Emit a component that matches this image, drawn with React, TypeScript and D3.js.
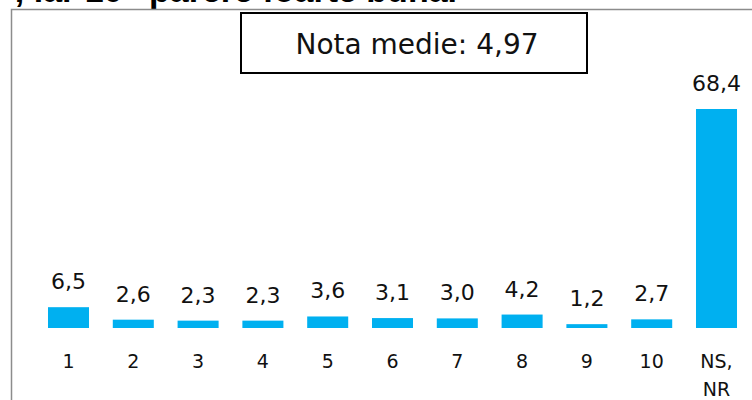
import React from "react";
import * as d3 from "d3";

const categories = ["1", "2", "3", "4", "5", "6", "7", "8", "9", "10", "NS, NR"];
const values = [6.5, 2.6, 2.3, 2.3, 3.6, 3.1, 3.0, 4.2, 1.2, 2.7, 68.4];
const valueLabels = ["6,5", "2,6", "2,3", "2,3", "3,6", "3,1", "3,0", "4,2", "1,2", "2,7", "68,4"];
const titleText = "Nota 1 înseamnă “părere foarte proastă”, iar 10 “părere foarte bună.”";
const boxText = "Nota medie: 4,97";

const W = 752;
const H = 400;
const FONT = "'DejaVu Sans', sans-serif";

export default function App() {
  const x = d3
    .scaleBand<string>()
    .domain(categories)
    .range([36.1, 748.9])
    .paddingInner(0.367)
    .paddingOuter(0.1835);
  const y = d3.scaleLinear().domain([0, 68.4]).range([328, 109]);

  return (
    <svg
      width={W}
      height={H}
      style={{ position: "absolute", left: 0, top: 0, background: "#fff" }}
    >
      <text
        x={474}
        y={2}
        textAnchor="end"
        fontFamily="'Liberation Sans', Arial, sans-serif"
        fontWeight="bold"
        fontSize={34}
        fill="#000"
      >
        {titleText}
      </text>
      <path d={`M11.5,${H + 5} V9.5 H${W + 5}`} fill="none" stroke="#8c8c8c" strokeWidth={1.5} />
      <rect x={241} y={13} width={346} height={60} fill="#fff" stroke="#000" strokeWidth={2} />
      <text
        x={417}
        y={54}
        textAnchor="middle"
        fontFamily={FONT}
        fontSize={28}
        fill="#111"
      >
        {boxText}
      </text>
      {categories.map((c, i) => {
        const bx = x(c) as number;
        const bw = x.bandwidth();
        const cx = bx + bw / 2;
        const top = y(values[i]);
        const parts = c.split(" ");
        return (
          <g key={c}>
            <rect x={bx} y={top} width={bw} height={y(0) - top} fill="#00B0F0" />
            <text
              x={cx}
              y={top - 18}
              textAnchor="middle"
              fontFamily={FONT}
              fontSize={22}
              fill="#111"
            >
              {valueLabels[i]}
            </text>
            {parts.map((p, j) => (
              <text
                key={j}
                x={cx}
                y={368 + j * 28}
                textAnchor="middle"
                fontFamily={FONT}
                fontSize={19}
                fill="#111"
              >
                {p}
              </text>
            ))}
          </g>
        );
      })}
    </svg>
  );
}
